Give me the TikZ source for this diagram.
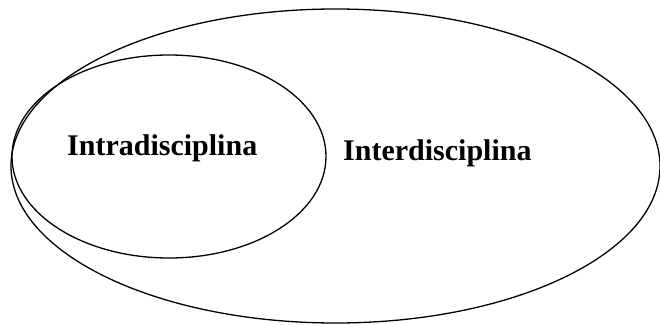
\documentclass[tikz,border=0pt]{standalone}
\usepackage{fontspec}
\setmainfont{Liberation Serif}
\usetikzlibrary{shapes.geometric}
\begin{document}
\begin{tikzpicture}[x=1pt,y=-1pt,
  setbox/.style={ellipse,draw=black,line width=1.3pt,inner sep=0pt},
  setlabel/.style={anchor=base west,inner sep=0pt,font=\fontsize{30}{33}\selectfont\bfseries}]
\useasboundingbox (0,0) rectangle (660,324);
\node[setbox,minimum width=649pt,minimum height=314pt] (inter) at (335.5,166) {};
\node[setbox,minimum width=314pt,minimum height=203pt] (intra) at (169,156.5) {};
\node[setlabel] (intralbl) at (67,155) {Intradisciplina};
\node[setlabel] (interlbl) at (343,160) {Interdisciplina};
\end{tikzpicture}
\end{document}
